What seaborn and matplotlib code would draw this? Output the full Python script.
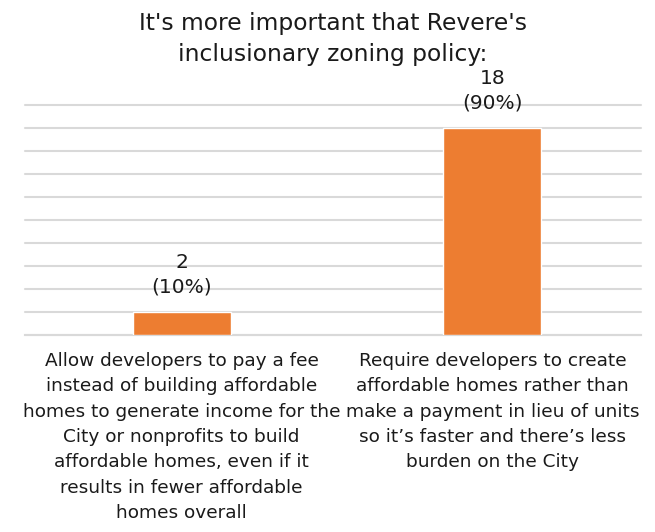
import matplotlib
matplotlib.use("Agg")
import matplotlib.pyplot as plt
import seaborn as sns
import pandas as pd

# Survey responses
categories = [
    "Allow developers to pay a fee\ninstead of building affordable\nhomes to generate income for the\nCity or nonprofits to build\naffordable homes, even if it\nresults in fewer affordable\nhomes overall",
    "Require developers to create\naffordable homes rather than\nmake a payment in lieu of units\nso it\u2019s faster and there\u2019s less\nburden on the City",
]
counts = [2, 18]
percents = [10, 90]
y_ticks = [0, 2, 4, 6, 8, 10, 12, 14, 16, 18, 20]

title = "It's more important that Revere's\ninclusionary zoning policy:"

sns.set_theme(style="white")
plt.rcParams["font.family"] = ["DejaVu Sans"]

TEXT = "#1a1a1a"
GRID = "#D9D9D9"

df = pd.DataFrame({"option": categories, "count": counts})

W, H = 655, 532
fig = plt.figure(figsize=(W / 100, H / 100), dpi=100)
ax = fig.add_axes([25 / W, 1 - 335 / H, 616 / W, 230 / H])

sns.barplot(data=df, x="option", y="count", color="#ED7D31", width=0.315,
            saturation=1, ax=ax, zorder=3)

ax.set_xlim(-0.504, 1.478)
ax.set_ylim(0, 20)
ax.set_yticks(y_ticks)
ax.set_yticklabels([])
ax.tick_params(axis="y", length=0)
ax.tick_params(axis="x", length=0, pad=12)
ax.grid(axis="y", color=GRID, linewidth=1.5, zorder=0)
for gl in ax.get_ygridlines():
    gl.set_clip_on(False)
ax.set_axisbelow(True)
for side in ["left", "right", "top"]:
    ax.spines[side].set_visible(False)
ax.spines["bottom"].set_color(GRID)
ax.spines["bottom"].set_linewidth(1.5)
ax.set_xlabel("")
ax.set_ylabel("")
ax.set_xticks(range(len(categories)))
ax.set_xticklabels(categories, fontsize=13.3, color=TEXT, linespacing=1.53)

# Value labels above bars
for i, (c, p) in enumerate(zip(counts, percents)):
    ax.annotate(f"{c}\n({p}%)", xy=(i, c), xytext=(0, 11), textcoords="offset points",
                ha="center", va="bottom", fontsize=14.5, color=TEXT, linespacing=1.4)

# Two-line title; baseline of the second line anchors the block
fig.text(333 / W, 1 - 61 / H, title, ha="center", va="baseline", fontsize=16.8,
         color=TEXT, linespacing=1.46)

fig.savefig("out.png", dpi=100, facecolor="white")
